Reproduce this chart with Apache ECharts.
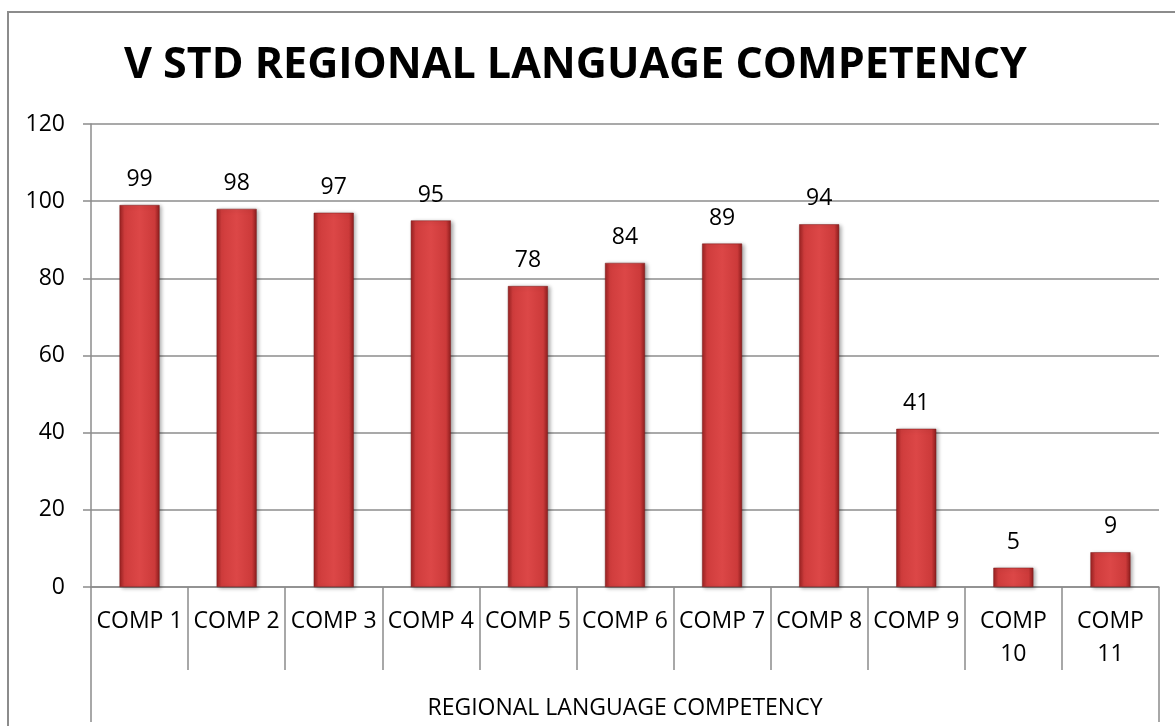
<!DOCTYPE html>
<html>
<head>
<meta charset="utf-8">
<script src="https://cdn.jsdelivr.net/npm/echarts@6/dist/echarts.min.js"></script>
<style>
  body { margin: 0; background: #fff; }
  #frame { position: absolute; left: 7px; top: 11px; width: 1300px; height: 900px; border: 2px solid #8c8c8c; }
  #main { position: absolute; left: 0; top: 0; width: 1175px; height: 726px; }
</style>
</head>
<body>
<div id="frame"></div>
<div id="main"></div>
<script>
const categories = ['COMP 1', 'COMP 2', 'COMP 3', 'COMP 4', 'COMP 5', 'COMP 6', 'COMP 7', 'COMP 8', 'COMP 9', 'COMP 10', 'COMP 11'];
const scores = [99, 98, 97, 95, 78, 84, 89, 94, 41, 5, 9];
const groupLabel = ['REGIONAL LANGUAGE COMPETENCY'];
const titleText = 'V STD REGIONAL LANGUAGE COMPETENCY';

const font = '"Open Sans", "Noto Sans", sans-serif';
const gray = '#8c8c8c';

let myChart = echarts.init(document.getElementById('main'));
myChart.setOption({
  animation: false,
  title: {
    text: titleText,
    left: 119,
    top: 39,
    textStyle: { fontFamily: font, fontWeight: 'bold', fontSize: 43, color: '#000' }
  },
  grid: { left: 91, right: 16, top: 124, bottom: 139, containLabel: false },
  xAxis: [
    {
      type: 'category',
      data: categories,
      position: 'bottom',
      axisLine: { show: true, lineStyle: { color: gray, width: 1.5 } },
      axisTick: { show: true, length: 83, interval: 0, lineStyle: { color: gray, width: 1.5 } },
      axisLabel: {
        interval: 0,
        margin: 18,
        fontFamily: font,
        fontSize: 23,
        color: '#000',
        lineHeight: 33,
        formatter: function (v) { return v.length > 6 ? v.replace(' ', '\n') : v; }
      }
    },
    {
      type: 'category',
      data: groupLabel,
      position: 'bottom',
      axisLine: { show: false },
      axisTick: { show: true, length: 135, lineStyle: { color: gray, width: 1.5 } },
      axisLabel: { margin: 110, fontFamily: font, fontSize: 23, color: '#000' }
    }
  ],
  yAxis: {
    type: 'value',
    min: 0,
    max: 120,
    interval: 20,
    axisLine: { show: true, lineStyle: { color: gray, width: 1.5 } },
    axisTick: { show: true, length: 8, lineStyle: { color: gray, width: 1.5 } },
    axisLabel: { margin: 26, fontFamily: font, fontSize: 23, color: '#000' },
    splitLine: { show: true, lineStyle: { color: gray, width: 1.5 } }
  },
  series: [{
    type: 'bar',
    xAxisIndex: 0,
    data: scores,
    barWidth: 40,
    itemStyle: {
      color: new echarts.graphic.LinearGradient(0, 0, 1, 0, [
        { offset: 0, color: '#9a2222' },
        { offset: 0.12, color: '#cf3c3c' },
        { offset: 0.5, color: '#dc4747' },
        { offset: 0.88, color: '#cc3a3a' },
        { offset: 1, color: '#8e1e1e' }
      ]),
      borderColor: '#7a1a1a',
      borderWidth: 0.5,
      shadowColor: 'rgba(0,0,0,0.35)',
      shadowBlur: 4,
      shadowOffsetX: 2,
      shadowOffsetY: 1
    },
    label: {
      show: true,
      position: 'top',
      distance: 14,
      fontFamily: font,
      fontSize: 23,
      color: '#000'
    }
  }]
});
</script>
</body>
</html>
